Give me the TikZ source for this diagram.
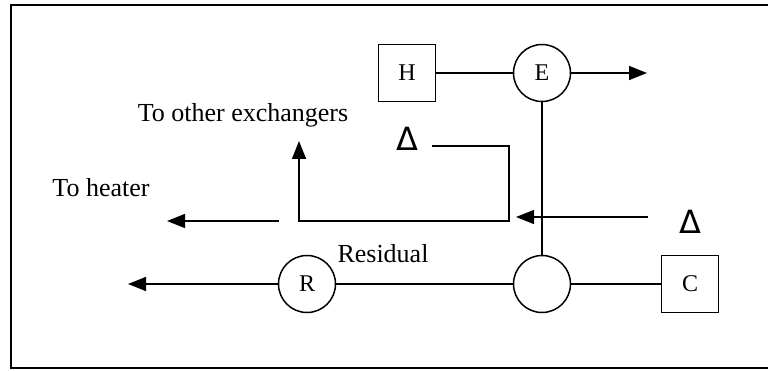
\documentclass[tikz,border=0pt]{standalone}
\usepackage{fontspec}
\setmainfont{Liberation Serif}
\newfontfamily\deltafont{DejaVu Sans}
\usetikzlibrary{arrows.meta}
\begin{document}
\begin{tikzpicture}[x=1pt,y=-1pt,
  line width=1.5pt,
  flow/.style={-{Triangle[length=18pt,width=14pt]}},
  unitbox/.style={draw,rectangle,minimum width=57pt,minimum height=57pt,inner sep=0pt,font=\fontsize{24}{24}\selectfont},
  unitcirc/.style={draw,circle,minimum size=57pt,inner sep=0pt,font=\fontsize{24}{24}\selectfont},
  lbl/.style={anchor=base,inner sep=0pt,font=\fontsize{26}{26}\selectfont},
  tri/.style={inner sep=0pt,font=\deltafont\fontsize{32}{32}\selectfont}]
\useasboundingbox (0,0) rectangle (768,371);
% frame (open at the right)
\draw[line width=1.6pt] (775,5) -- (11,5) -- (11,368) -- (775,368);

% units
\node[unitbox]  (H) at (407,73)  {H};
\node[unitcirc] (E) at (542,73)  {E};
\node[unitcirc] (M) at (542,284) {};
\node[unitbox]  (C) at (690,284) {C};
\node[unitcirc] (R) at (307,284) {R};

% labels
\node[lbl] (other)    at (243,122) {To other exchangers};
\node[lbl] (heater)   at (101,197) {To heater};
\node[lbl] (residual) at (383,263) {Residual};
\node[tri] (d1) at (407,139) {Δ};
\node[tri] (d2) at (690,222) {Δ};

% auxiliary points
\coordinate (eout)  at (647,73);
\coordinate (rout)  at (128,284);
\coordinate (l1)    at (432,146);
\coordinate (l2)    at (509,146);
\coordinate (l3)    at (509,221);
\coordinate (l4)    at (299,221);
\coordinate (l5)    at (299,141);
\coordinate (hin)   at (279,221);
\coordinate (hout)  at (167,221);
\coordinate (din)   at (648,217);
\coordinate (dout)  at (516,217);

% connections
\draw (H) -- (E);
\draw[flow] (E) -- (eout);
\draw (E) -- (M);
\draw (M) -- (C);
\draw (R) -- (M);
\draw[flow] (R) -- (rout);
\draw[flow] (l1) -- (l2) -- (l3) -- (l4) -- (l5);
\draw[flow] (hin) -- (hout);
\draw[flow] (din) -- (dout);
\end{tikzpicture}
\end{document}
